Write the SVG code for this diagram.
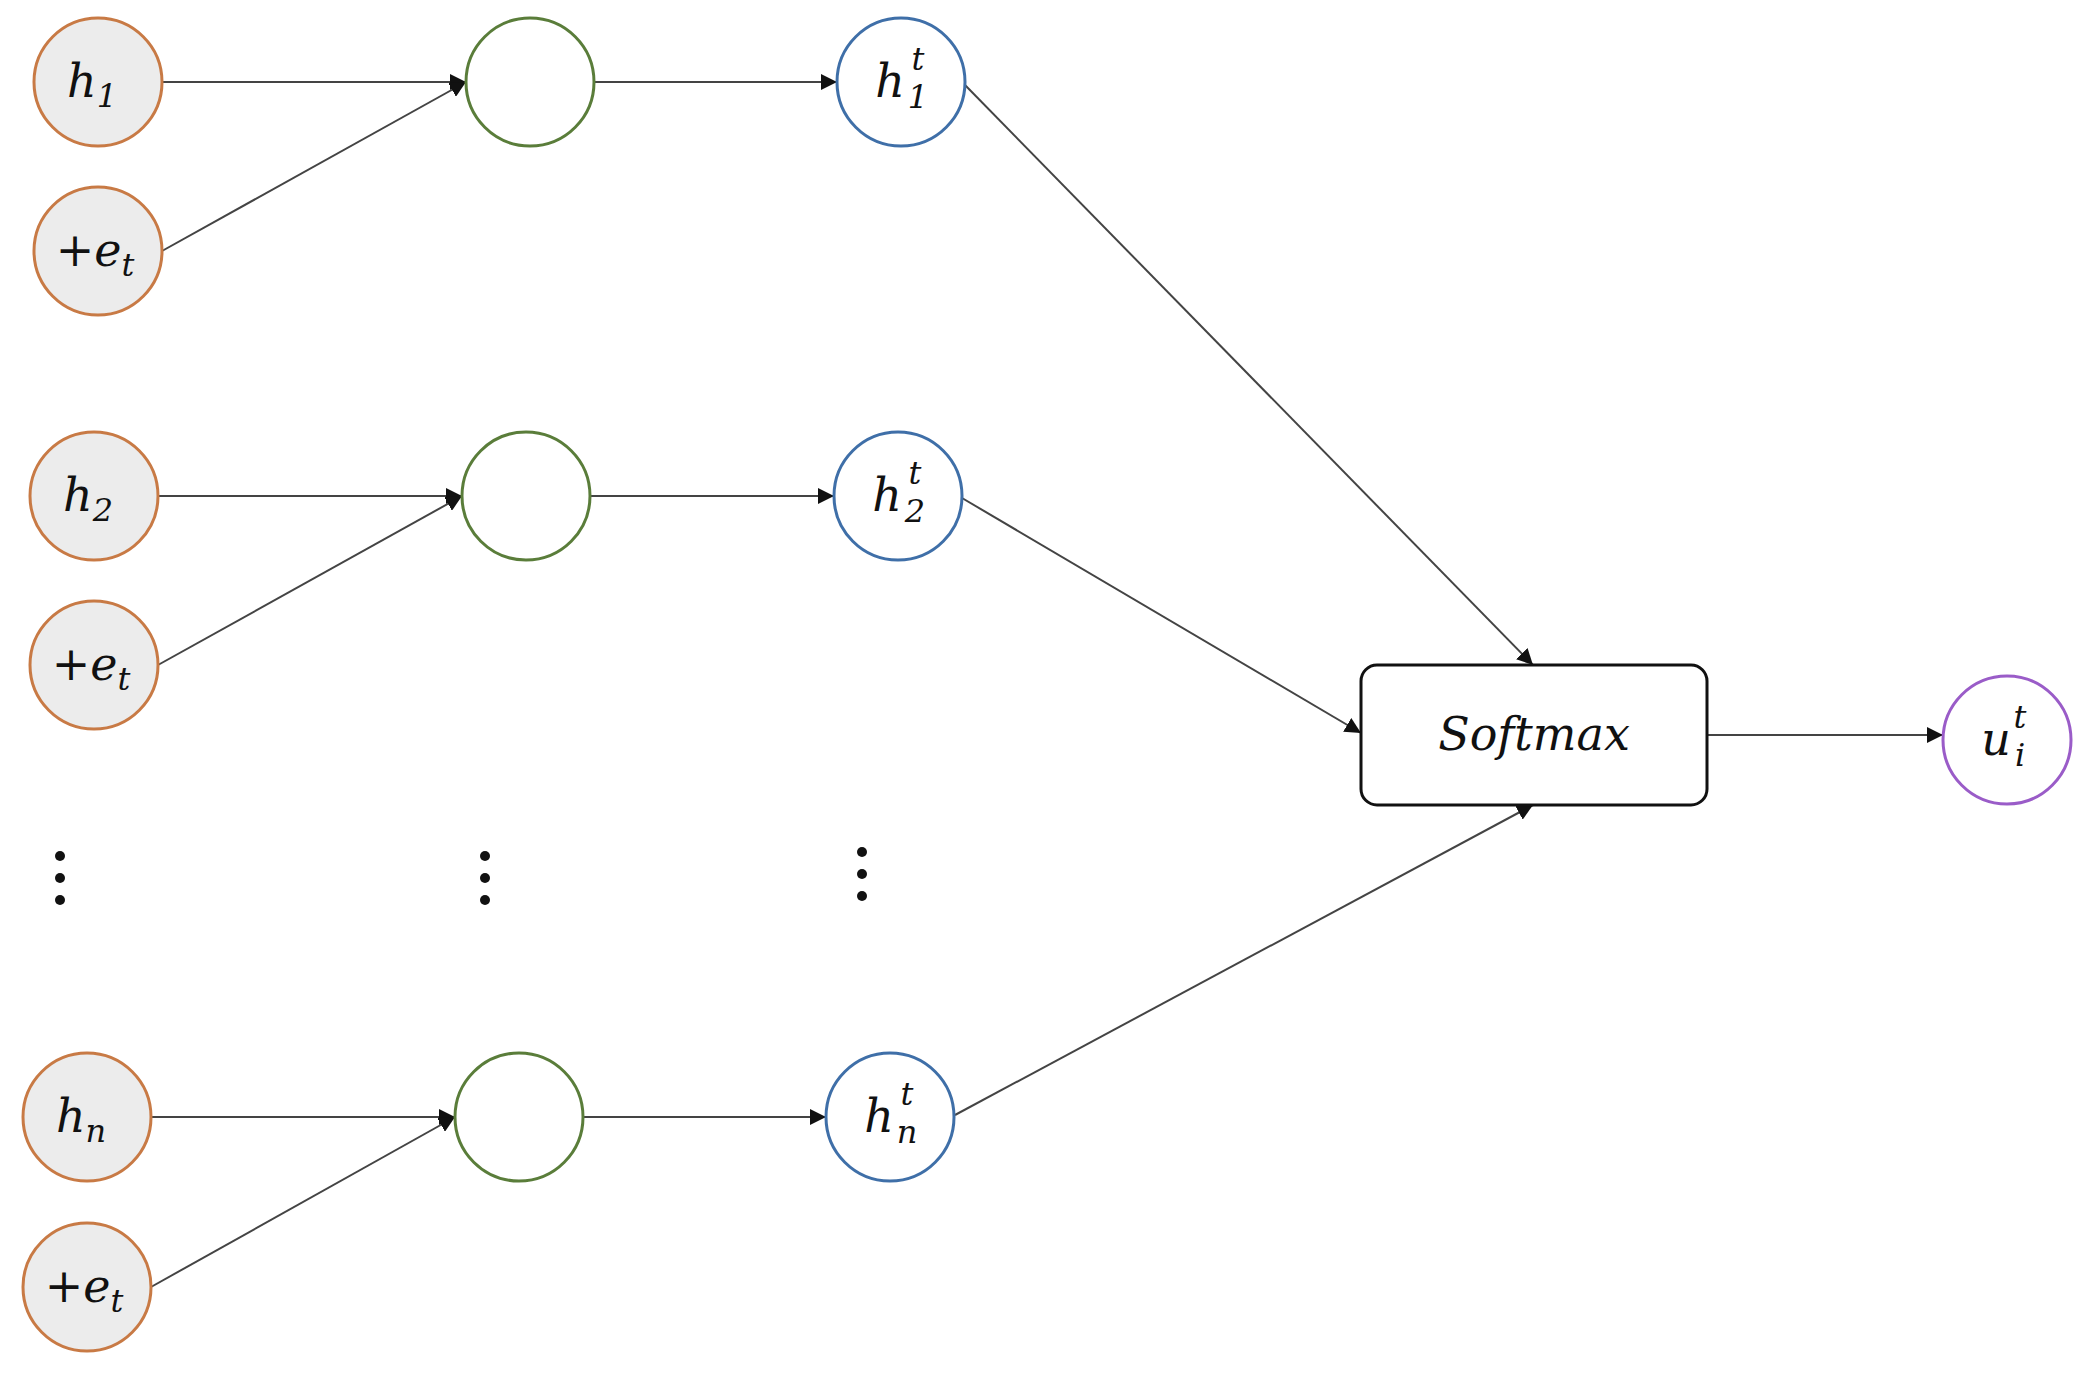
<svg xmlns="http://www.w3.org/2000/svg" width="2092" height="1383" viewBox="0 0 2092 1383">
<style>
.in{fill:#ececec;stroke:#c87a45;stroke-width:3}
.g{fill:#fff;stroke:#5a7d3a;stroke-width:3}
.b{fill:#fff;stroke:#3f6fa8;stroke-width:3}
.p{fill:#fff;stroke:#9a5cc8;stroke-width:3}
.t{font-family:"DejaVu Serif","Liberation Serif",serif;font-style:italic;font-size:46px;fill:#111;text-anchor:middle}
.s{font-size:32px}
.c line{stroke:#444;stroke-width:2;marker-end:url(#a)}
</style>
<defs><marker id="a" viewBox="0 0 10 10" refX="10" refY="5" markerWidth="8" markerHeight="8" orient="auto" markerUnits="userSpaceOnUse"><path d="M0,0L10,5L0,10z" fill="#111"/></marker>
<marker id="a2" viewBox="0 0 10 10" refX="10" refY="5" markerWidth="16" markerHeight="16" orient="auto" markerUnits="userSpaceOnUse"><path d="M0,0L10,5L0,10z" fill="#111"/></marker></defs>
<g class="c" style="--x:0">
<line x1="162" y1="82" x2="466" y2="82" style="marker-end:url(#a2)"/>
<line x1="162" y1="251" x2="466" y2="82" style="marker-end:url(#a2)"/>
<line x1="594" y1="82" x2="837" y2="82" style="marker-end:url(#a2)"/>
<line x1="965" y1="85" x2="1533" y2="665" style="marker-end:url(#a2)"/>
<line x1="158" y1="496" x2="462" y2="496" style="marker-end:url(#a2)"/>
<line x1="158" y1="665" x2="462" y2="496" style="marker-end:url(#a2)"/>
<line x1="590" y1="496" x2="834" y2="496" style="marker-end:url(#a2)"/>
<line x1="962" y1="498" x2="1361" y2="733" style="marker-end:url(#a2)"/>
<line x1="151" y1="1117" x2="455" y2="1117" style="marker-end:url(#a2)"/>
<line x1="151" y1="1287" x2="455" y2="1117" style="marker-end:url(#a2)"/>
<line x1="583" y1="1117" x2="826" y2="1117" style="marker-end:url(#a2)"/>
<line x1="955" y1="1115" x2="1533" y2="805" style="marker-end:url(#a2)"/>
<line x1="1707" y1="735" x2="1943" y2="735" style="marker-end:url(#a2)"/>
</g>
<g id="h1"><circle class="in" cx="98" cy="82" r="64"/><text class="t" x="92" y="97">h<tspan class="s" dy="10">1</tspan></text></g>
<g id="e1"><circle class="in" cx="98" cy="251" r="64"/><text class="t" x="95" y="266">+e<tspan class="s" dy="10">t</tspan></text></g>
<g id="g1"><circle class="g" cx="530" cy="82" r="64"/></g>
<g id="h1t"><circle class="b" cx="901" cy="82" r="64"/><text class="t" x="890" y="97">h</text><text class="t s" x="918" y="70">t</text><text class="t s" x="918" y="108">1</text></g>
<g id="h2"><circle class="in" cx="94" cy="496" r="64"/><text class="t" x="88" y="511">h<tspan class="s" dy="10">2</tspan></text></g>
<g id="e2"><circle class="in" cx="94" cy="665" r="64"/><text class="t" x="91" y="680">+e<tspan class="s" dy="10">t</tspan></text></g>
<g id="g2"><circle class="g" cx="526" cy="496" r="64"/></g>
<g id="h2t"><circle class="b" cx="898" cy="496" r="64"/><text class="t" x="887" y="511">h</text><text class="t s" x="915" y="484">t</text><text class="t s" x="915" y="522">2</text></g>
<g id="hn"><circle class="in" cx="87" cy="1117" r="64"/><text class="t" x="81" y="1132">h<tspan class="s" dy="10">n</tspan></text></g>
<g id="en"><circle class="in" cx="87" cy="1287" r="64"/><text class="t" x="84" y="1302">+e<tspan class="s" dy="10">t</tspan></text></g>
<g id="gn"><circle class="g" cx="519" cy="1117" r="64"/></g>
<g id="hnt"><circle class="b" cx="890" cy="1117" r="64"/><text class="t" x="879" y="1132">h</text><text class="t s" x="907" y="1105">t</text><text class="t s" x="907" y="1143">n</text></g>
<g id="dots" fill="#111"><circle cx="60" cy="856" r="5"/><circle cx="60" cy="878" r="5"/><circle cx="60" cy="900" r="5"/><circle cx="485" cy="856" r="5"/><circle cx="485" cy="878" r="5"/><circle cx="485" cy="900" r="5"/><circle cx="862" cy="852" r="5"/><circle cx="862" cy="874" r="5"/><circle cx="862" cy="896" r="5"/></g>
<g id="softmax"><rect x="1361" y="665" width="346" height="140" rx="16" fill="#fff" stroke="#111" stroke-width="3"/><text class="t" x="1534" y="750">Softmax</text></g>
<g id="u"><circle class="p" cx="2007" cy="740" r="64"/><text class="t" x="1996" y="755">u</text><text class="t s" x="2020" y="728">t</text><text class="t s" x="2020" y="766">i</text></g>
</svg>
